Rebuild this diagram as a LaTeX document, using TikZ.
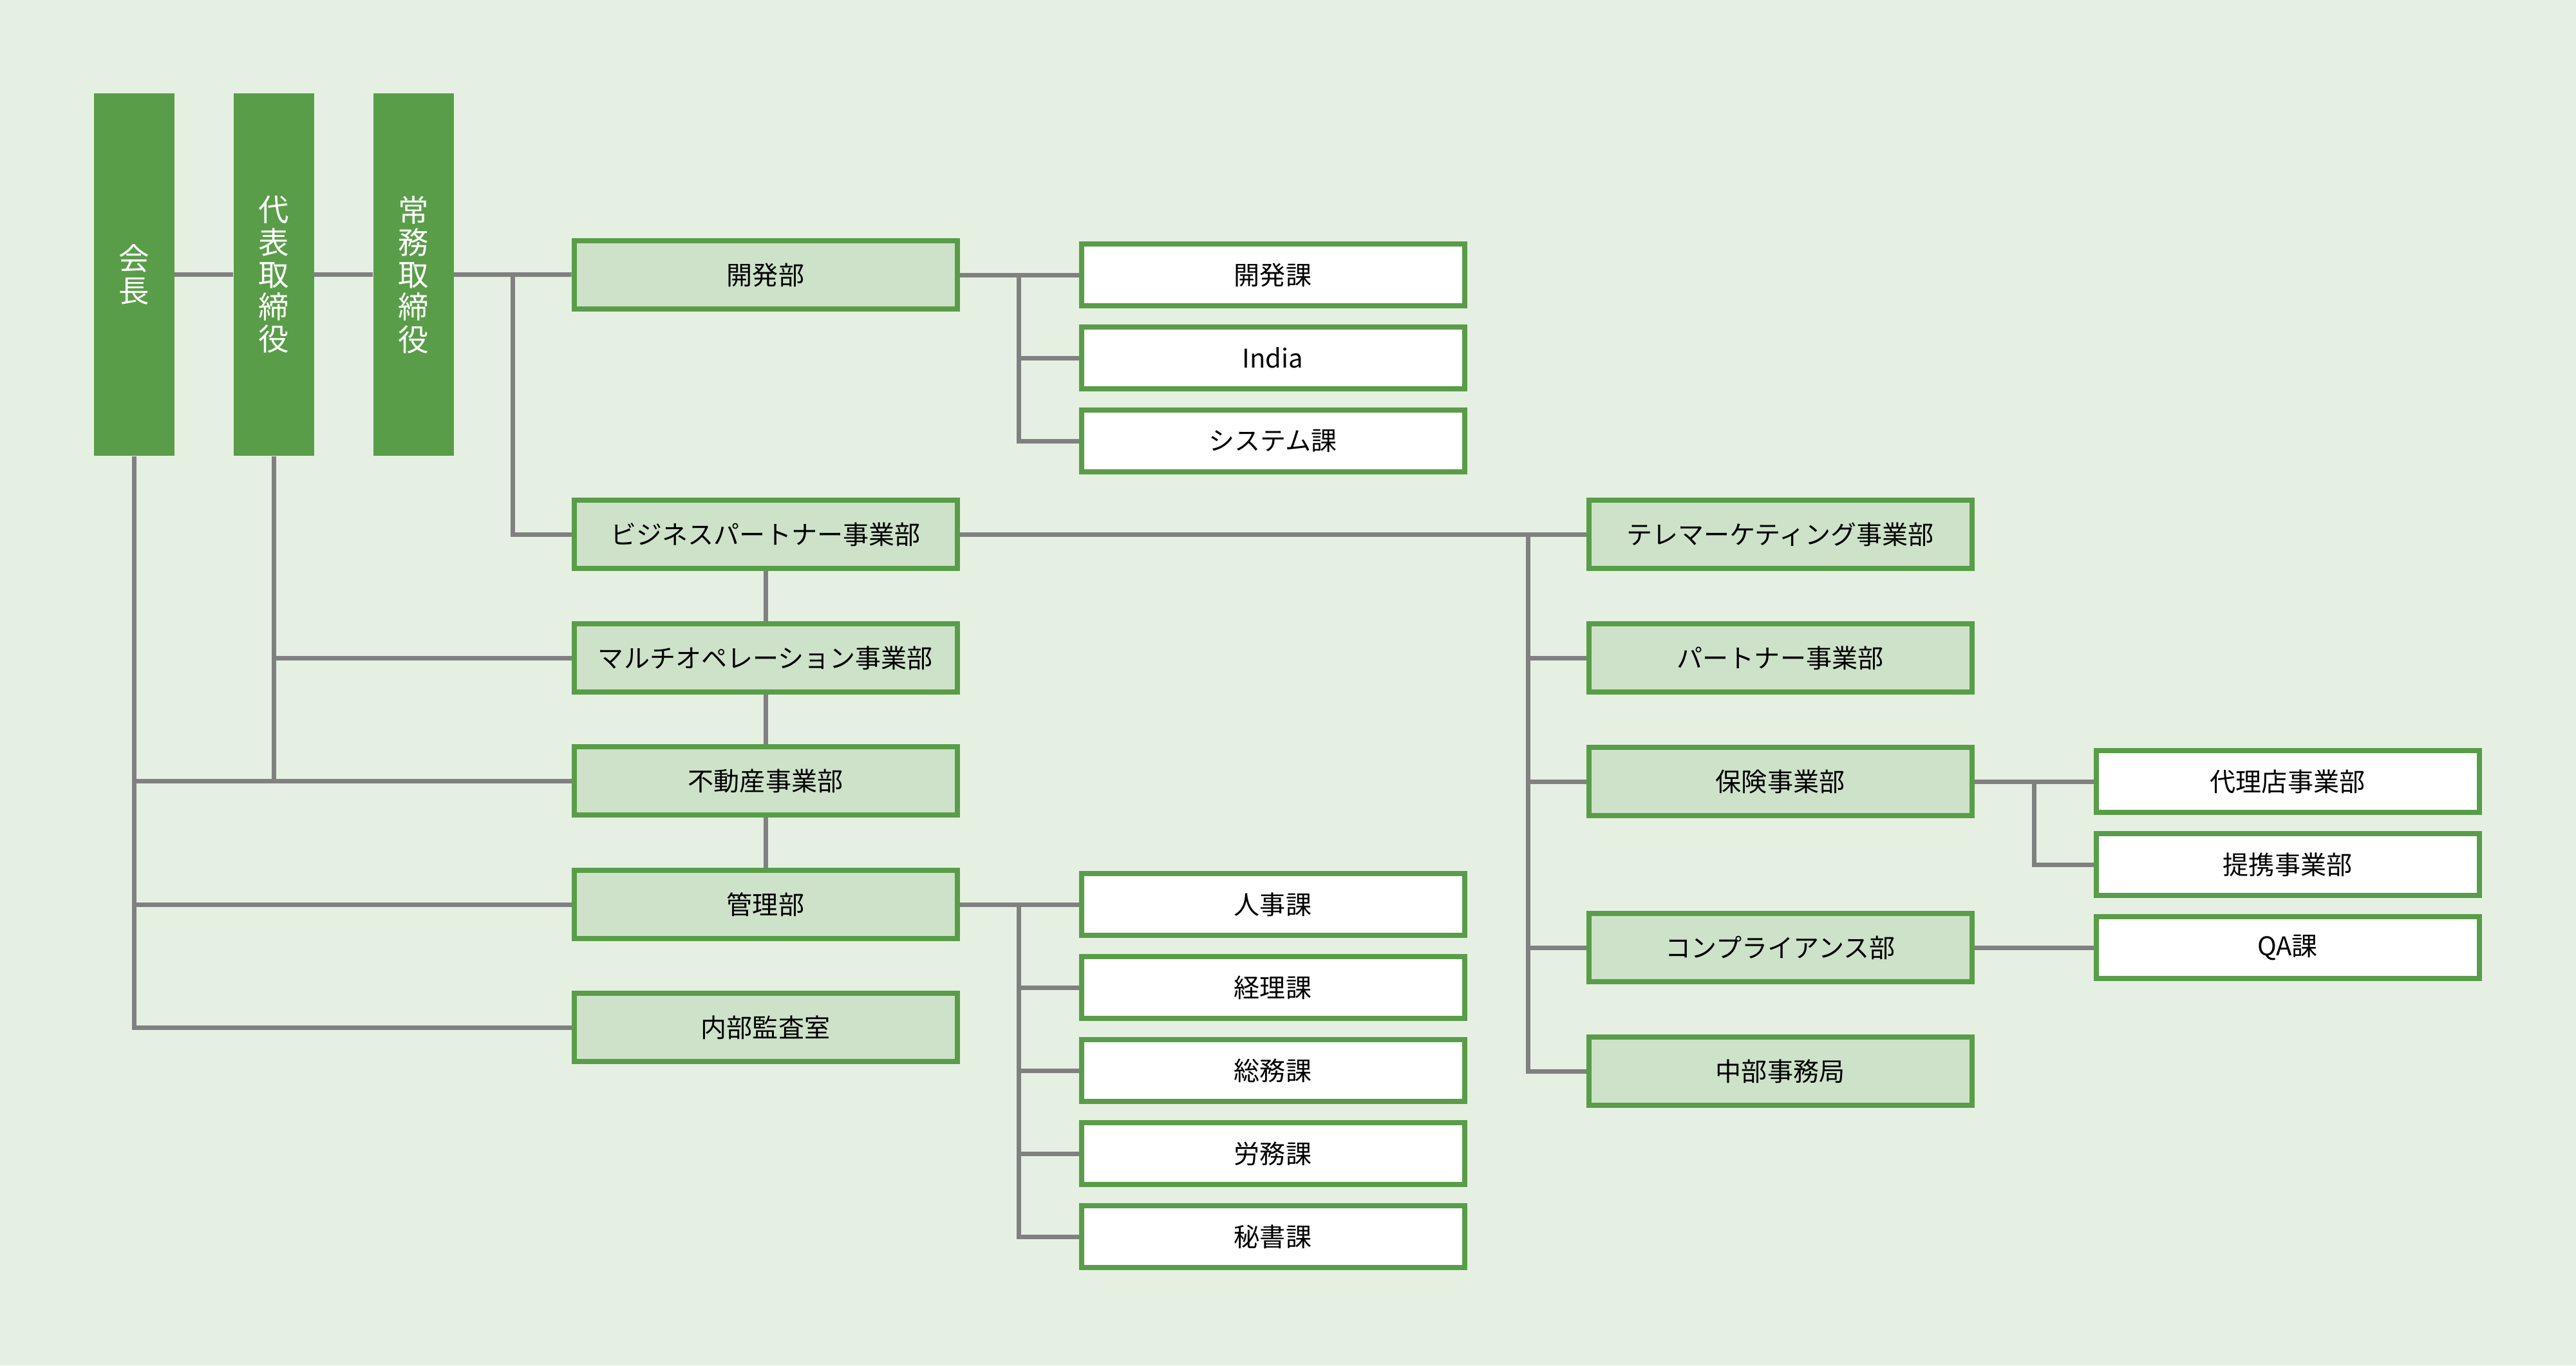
\documentclass[tikz,border=0pt]{standalone}
\usepackage{fontspec}
\setmainfont{Noto Sans CJK JP}
\usepackage{xcolor}
\definecolor{bgcolor}{RGB}{229,240,227}
\definecolor{darkgreen}{RGB}{89,157,72}
\definecolor{lightgreen}{RGB}{206,226,201}
\definecolor{linegray}{RGB}{128,128,128}

\begin{document}
\begin{tikzpicture}[
    exec/.style={rectangle,fill=darkgreen,text=white,minimum width=1.25cm,minimum height=5.63cm,inner sep=0pt,align=center,font=\fontsize{13.5}{14.3}\selectfont},
    dept/.style={rectangle,draw=darkgreen,line width=0.08cm,fill=lightgreen,minimum width=5.95cm,minimum height=1.06cm,font=\fontsize{11.4}{13}\selectfont},
    sect/.style={rectangle,draw=darkgreen,line width=0.08cm,fill=white,minimum width=5.95cm,minimum height=0.96cm,font=\fontsize{11.4}{13}\selectfont},
    conn/.style={draw=linegray,line width=0.07cm}]
    \fill[bgcolor] (0,0) rectangle (40.01,-21.21);
    \useasboundingbox (0,0) rectangle (40.01,-21.21);
    % executives
    \node[exec] (kaicho) at (2.08,-4.265) {会\\長};
    \node[exec] (daihyo) at (4.25,-4.265) {代\\表\\取\\締\\役};
    \node[exec] (jomu) at (6.42,-4.265) {常\\務\\取\\締\\役};
    % departments
    \node[dept] (kaihatsu) at (11.89,-4.27) {開発部};
    \node[dept] (bp) at (11.89,-8.30) {ビジネスパートナー事業部};
    \node[dept] (multi) at (11.89,-10.22) {マルチオペレーション事業部};
    \node[dept] (fudosan) at (11.89,-12.13) {不動産事業部};
    \node[dept] (kanri) at (11.89,-14.05) {管理部};
    \node[dept] (naibu) at (11.89,-15.96) {内部監査室};
    % sections
    \node[sect] (kaihatsuka) at (19.77,-4.27) {開発課};
    \node[sect] (india) at (19.77,-5.56) {India};
    \node[sect] (system) at (19.77,-6.85) {システム課};
    \node[sect] (jinji) at (19.77,-14.05) {人事課};
    \node[sect] (keiri) at (19.77,-15.34) {経理課};
    \node[sect] (somu) at (19.77,-16.63) {総務課};
    \node[sect] (romu) at (19.77,-17.92) {労務課};
    \node[sect] (hisho) at (19.77,-19.21) {秘書課};
    % business partner divisions
    \node[dept] (telema) at (27.65,-8.30) {テレマーケティング事業部};
    \node[dept] (partner) at (27.65,-10.22) {パートナー事業部};
    \node[dept] (hoken) at (27.65,-12.14) {保険事業部};
    \node[dept] (comp) at (27.65,-14.72) {コンプライアンス部};
    \node[dept] (chubu) at (27.65,-16.64) {中部事務局};
    \node[sect] (dairiten) at (35.53,-12.14) {代理店事業部};
    \node[sect] (teikei) at (35.53,-13.43) {提携事業部};
    \node[sect] (qa) at (35.53,-14.72) {QA課};
    % connectors
    \coordinate (j1) at (7.96,-4.27);
    \coordinate (k1) at (15.82,-4.27);
    \coordinate (m1) at (15.82,-14.05);
    \coordinate (b1) at (23.73,-8.30);
    \coordinate (h1) at (31.59,-12.14);
    \draw[conn] (kaicho) -- (daihyo);
    \draw[conn] (daihyo) -- (jomu);
    \draw[conn] (jomu) -- (kaihatsu);
    \draw[conn] (j1) |- (bp);
    \draw[conn] (kaihatsu) -- (kaihatsuka);
    \draw[conn] (k1) |- (india);
    \draw[conn] (k1) |- (system);
    \draw[conn] (bp) -- (multi);
    \draw[conn] (multi) -- (fudosan);
    \draw[conn] (fudosan) -- (kanri);
    \draw[conn] (daihyo.south) -- (daihyo |- fudosan);
    \draw[conn] (daihyo |- multi) -- (multi);
    \draw[conn] (kaicho.south) |- (naibu);
    \draw[conn] (kaicho |- fudosan) -- (fudosan);
    \draw[conn] (kaicho |- kanri) -- (kanri);
    \draw[conn] (kanri) -- (jinji);
    \draw[conn] (m1) |- (keiri);
    \draw[conn] (m1) |- (somu);
    \draw[conn] (m1) |- (romu);
    \draw[conn] (m1) |- (hisho);
    \draw[conn] (bp) -- (telema);
    \draw[conn] (b1) |- (partner);
    \draw[conn] (b1) |- (hoken);
    \draw[conn] (b1) |- (comp);
    \draw[conn] (b1) |- (chubu);
    \draw[conn] (hoken) -- (dairiten);
    \draw[conn] (h1) |- (teikei);
    \draw[conn] (comp) -- (qa);
\end{tikzpicture}
\end{document}
